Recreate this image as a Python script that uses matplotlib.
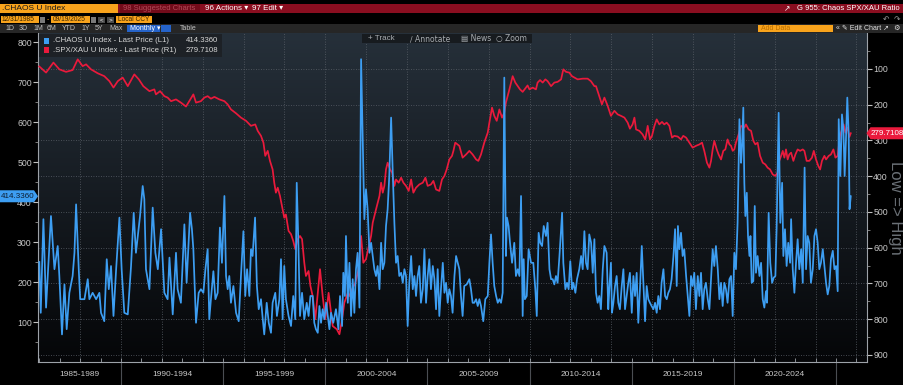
import numpy as np
import matplotlib
matplotlib.use('Agg')
import matplotlib.pyplot as plt
from matplotlib.patches import Rectangle, Polygon
from matplotlib.ticker import FixedLocator
import matplotlib.transforms as mtransforms

# ---------------- data ----------------
chaos_t = [
    1986.00, 1986.07, 1986.20, 1986.33, 1986.57, 1986.74, 1986.90, 1986.98, 1987.11, 1987.23, 1987.34, 1987.47,
    1987.63, 1987.72, 1987.80, 1987.93, 1988.00, 1988.21, 1988.37, 1988.45, 1988.61, 1988.78, 1988.94, 1989.02,
    1989.18, 1989.30, 1989.40, 1989.51, 1989.63, 1989.76, 1989.92, 1990.03, 1990.16, 1990.33, 1990.49, 1990.62,
    1990.73, 1990.82, 1990.93, 1991.06, 1991.14, 1991.22, 1991.39, 1991.55, 1991.68, 1991.80, 1991.96, 1992.12,
    1992.28, 1992.37, 1992.53, 1992.69,
    1992.77, 1992.93, 1993.10, 1993.21, 1993.38, 1993.47, 1993.54, 1993.67, 1993.80, 1993.91, 1994.03, 1994.13,
    1994.24, 1994.32, 1994.40, 1994.52, 1994.62, 1994.73, 1994.84, 1994.94, 1995.06, 1995.14, 1995.22, 1995.30,
    1995.38, 1995.50, 1995.63, 1995.76, 1995.87, 1995.99, 1996.08, 1996.17, 1996.28, 1996.36, 1996.44, 1996.56,
    1996.65, 1996.74, 1996.85, 1996.93, 1997.01, 1997.13, 1997.23, 1997.34, 1997.42, 1997.55, 1997.63, 1997.75,
    1997.83, 1997.91, 1997.99, 1998.07, 1998.20, 1998.32, 1998.43, 1998.53, 1998.60, 1998.68, 1998.76, 1998.86,
    1998.97, 1999.09, 1999.18, 1999.27, 1999.38, 1999.46, 1999.54,
    1999.63, 1999.71, 1999.79, 1999.87, 1999.95, 2000.04, 2000.12, 2000.20, 2000.28, 2000.39, 2000.52, 2000.64,
    2000.72, 2000.82, 2000.88, 2000.96, 2001.01, 2001.10, 2001.18, 2001.26, 2001.34, 2001.42, 2001.50, 2001.58,
    2001.67, 2001.75, 2001.91, 2001.99, 2002.07, 2002.16, 2002.24, 2002.32, 2002.40, 2002.48, 2002.56, 2002.65,
    2002.73, 2002.81, 2002.89, 2002.97, 2003.05, 2003.13, 2003.22, 2003.30, 2003.38, 2003.46, 2003.54, 2003.62,
    2003.71, 2003.79, 2003.87, 2003.95, 2004.03, 2004.11, 2004.20, 2004.28, 2004.36, 2004.44, 2004.52, 2004.60,
    2004.68, 2004.77, 2004.85, 2004.93, 2005.01, 2005.09, 2005.17, 2005.26, 2005.34, 2005.42, 2005.50, 2005.58,
    2005.66, 2005.75, 2005.83, 2005.91, 2005.99, 2006.07, 2006.15, 2006.23, 2006.32, 2006.40,
    2006.56, 2006.64, 2006.72, 2006.80, 2006.92, 2007.05, 2007.13, 2007.21, 2007.29, 2007.38, 2007.46, 2007.54,
    2007.62, 2007.73, 2007.83, 2007.95, 2008.03, 2008.11, 2008.19, 2008.27, 2008.36, 2008.44, 2008.52, 2008.60,
    2008.68, 2008.76, 2008.84, 2008.89, 2008.97, 2009.04, 2009.14, 2009.25, 2009.33, 2009.42, 2009.50, 2009.58,
    2009.66, 2009.71, 2009.77, 2009.86, 2009.95, 2010.07, 2010.18, 2010.28, 2010.35, 2010.44, 2010.52, 2010.61,
    2010.69, 2010.80, 2010.88, 2010.97, 2011.05, 2011.13, 2011.21, 2011.29, 2011.37, 2011.46, 2011.59, 2011.65,
    2011.75, 2011.83, 2011.91, 2011.99, 2012.08, 2012.14, 2012.24, 2012.32, 2012.43, 2012.52, 2012.60, 2012.68,
    2012.76, 2012.84, 2012.92, 2013.01, 2013.09, 2013.17,
    2013.25, 2013.33, 2013.41, 2013.49, 2013.58, 2013.66, 2013.77, 2013.85, 2013.90, 2013.98, 2014.03, 2014.10,
    2014.18, 2014.26, 2014.34, 2014.42, 2014.51, 2014.59, 2014.67, 2014.75, 2014.83, 2014.91, 2015.00, 2015.08,
    2015.16, 2015.24, 2015.32, 2015.40, 2015.49, 2015.57, 2015.65, 2015.73, 2015.81, 2015.89, 2015.97, 2016.06,
    2016.14, 2016.22, 2016.30, 2016.38, 2016.46, 2016.55, 2016.63, 2016.71, 2016.79, 2016.87, 2016.95, 2017.04,
    2017.12, 2017.20, 2017.26, 2017.33, 2017.41, 2017.49, 2017.57, 2017.66, 2017.74, 2017.82, 2017.90, 2017.98,
    2018.06, 2018.14, 2018.23, 2018.31, 2018.39, 2018.47, 2018.55, 2018.63, 2018.72, 2018.80, 2018.88, 2018.96,
    2019.04, 2019.12, 2019.21, 2019.29, 2019.37, 2019.45, 2019.53, 2019.61, 2019.69, 2019.78, 2019.86, 2019.94,
    2020.02, 2020.10,
    2020.18, 2020.27, 2020.35, 2020.40, 2020.46, 2020.51, 2020.56, 2020.63, 2020.69, 2020.76, 2020.81, 2020.87,
    2020.95, 2021.02, 2021.08, 2021.16, 2021.25, 2021.33, 2021.41, 2021.49, 2021.57, 2021.62, 2021.70, 2021.78,
    2021.87, 2021.95, 2022.03, 2022.09, 2022.19, 2022.27, 2022.36, 2022.42, 2022.50, 2022.58, 2022.66, 2022.75,
    2022.80, 2022.88, 2022.96, 2023.04, 2023.12, 2023.20, 2023.29, 2023.37, 2023.46, 2023.53, 2023.61, 2023.69,
    2023.77, 2023.86, 2023.94, 2024.02, 2024.10, 2024.18, 2024.26, 2024.35, 2024.43, 2024.51, 2024.59, 2024.67,
    2024.75, 2024.84, 2024.92, 2025.00, 2025.08, 2025.13, 2025.21, 2025.29, 2025.36, 2025.42, 2025.49, 2025.55,
    2025.62, 2025.66, 2025.72,
]
chaos_v = [
    250, 123, 357, 136, 365, 232, 290, 215, 69, 194, 82, 173,
    215, 273, 394, 232, 157, 157, 207, 157, 173, 157, 173, 123,
    102, 257, 182, 240, 115, 232, 361, 232, 123, 119, 240, 373,
    273, 315, 365, 440, 407, 232, 182, 386, 273, 232, 332, 173,
    157, 261, 119, 273,
    182, 148, 344, 198, 373, 332, 282, 98, 173, 182, 173, 232,
    282, 107, 157, 227, 157, 173, 336, 248, 415, 215, 182, 215,
    148, 190, 123, 102, 215, 327, 165, 232, 165, 282, 265, 361,
    190, 132, 157, 111, 69, 148, 98, 73, 148, 173, 115, 157,
    257, 107, 240, 157, 115, 90, 165, 107, 448, 298, 115, 173,
    107, 148, 115, 165, 165, 98, 82,
    73, 140, 98, 132, 107, 148, 115, 82, 123, 98, 132, 82,
    165, 90, 223, 165, 315, 148, 248, 115, 207, 123, 232, 273,
    136, 757, 357, 432, 382, 273, 298, 265, 232, 215, 240, 182,
    298, 232, 248, 340, 382, 465, 611, 473, 348, 248, 265, 215,
    223, 198, 232, 215, 90, 198, 265, 182, 215, 165, 215, 240,
    148, 182, 282, 148, 215, 257, 182, 240, 207, 132, 232, 115,
    182, 248, 173, 198, 148, 182, 165, 123, 215, 265,
    232, 165, 115, 190, 194, 207, 182, 148, 148, 157, 140, 157,
    140, 102, 157, 165, 248, 319, 248, 190, 165, 148, 157, 148,
    173, 711, 265, 361, 340, 298, 248, 298, 215, 232, 215, 415,
    115, 257, 157, 165, 282, 248, 248, 182, 115, 323, 298, 290,
    340, 315, 348, 232, 207, 207, 194, 215, 198, 265, 373, 248,
    182, 198, 182, 252, 182, 198, 173, 207, 232, 265, 232, 327,
    248, 232, 319, 298, 223, 307,
    173, 148, 165, 132, 232, 290, 273, 132, 182, 248, 123, 148,
    190, 215, 148, 132, 190, 232, 132, 165, 198, 223, 123, 215,
    165, 223, 98, 182, 290, 194, 102, 190, 157, 148, 140, 132,
    148, 123, 165, 132, 198, 232, 165, 157, 173, 182, 207, 265,
    332, 190, 340, 282, 323, 265, 282, 215, 165, 115, 215, 190,
    223, 132, 215, 165, 223, 132, 182, 198, 157, 132, 207, 282,
    240, 290, 232, 157, 198, 140, 198, 182, 148, 207, 215, 115,
    273, 232,
    348, 607, 498, 540, 636, 448, 365, 423, 315, 265, 315, 198,
    202, 390, 223, 265, 215, 248, 157, 136, 177, 148, 373, 248,
    198, 211, 215, 332, 623, 348, 448, 265, 332, 240, 298, 248,
    357, 232, 173, 248, 307, 232, 282, 198, 486, 232, 315, 298,
    198, 232, 315, 332, 298, 232, 248, 282, 240, 198, 169, 190,
    257, 278, 232, 240, 177, 607, 465, 619, 582, 465, 565, 661,
    565, 382, 414.3360,
]

ratio_t = [
    1986.00, 1986.33, 1986.69, 1986.98, 1987.31, 1987.63, 1987.88, 1988.12, 1988.29, 1988.53, 1988.86, 1989.18,
    1989.43, 1989.63, 1989.84, 1990.08, 1990.33, 1990.65, 1990.87, 1991.09, 1991.39, 1991.63, 1991.71, 1991.91,
    1992.12, 1992.28, 1992.45, 1992.69,
    1992.93, 1993.18, 1993.34, 1993.54, 1993.67, 1993.91, 1994.08, 1994.24, 1994.40, 1994.57, 1994.81, 1995.06,
    1995.22, 1995.38, 1995.63, 1995.87, 1996.12, 1996.36, 1996.57, 1996.69, 1996.85, 1996.97, 1997.06, 1997.18,
    1997.29, 1997.42, 1997.50, 1997.58, 1997.67, 1997.78, 1997.91, 1997.99, 1998.07, 1998.20, 1998.32, 1998.43,
    1998.53, 1998.65, 1998.76, 1998.86, 1998.97, 1999.05, 1999.18, 1999.27, 1999.38, 1999.51,
    1999.74, 1999.87, 2000.00, 2000.16, 2000.36, 2000.56, 2000.69, 2000.82, 2000.93, 2001.10, 2001.18, 2001.31,
    2001.47, 2001.63, 2001.75, 2001.86, 2001.99, 2002.24, 2002.32, 2002.48, 2002.65, 2002.73, 2002.81, 2002.89,
    2002.97, 2003.05, 2003.17, 2003.27, 2003.38, 2003.46, 2003.59, 2003.71, 2003.82, 2003.95, 2004.08, 2004.20,
    2004.31, 2004.44, 2004.60, 2004.77, 2004.90, 2005.01, 2005.17, 2005.29, 2005.42, 2005.58, 2005.71, 2005.83,
    2005.94, 2006.07, 2006.20, 2006.27, 2006.36,
    2006.56, 2006.72, 2006.89, 2007.05, 2007.21, 2007.38, 2007.49, 2007.62, 2007.78, 2007.95, 2008.03, 2008.16,
    2008.27, 2008.39, 2008.52, 2008.65, 2008.76, 2008.84, 2009.01, 2009.17, 2009.30, 2009.42, 2009.53, 2009.66,
    2009.82, 2009.90, 2009.99, 2010.15, 2010.31, 2010.39, 2010.51, 2010.64, 2010.77, 2010.88, 2011.05, 2011.21,
    2011.37, 2011.54, 2011.65, 2011.78, 2011.94, 2012.07, 2012.19, 2012.35, 2012.60, 2012.84, 2013.00, 2013.17,
    2013.25, 2013.41, 2013.54, 2013.66, 2013.82, 2013.98, 2014.15, 2014.31, 2014.47, 2014.64, 2014.80, 2014.91,
    2015.04, 2015.13, 2015.21, 2015.37, 2015.53, 2015.66, 2015.78, 2015.89, 2015.99, 2016.11, 2016.22, 2016.35,
    2016.48, 2016.59, 2016.71, 2016.84, 2016.97, 2017.08, 2017.25, 2017.41, 2017.52, 2017.66, 2017.82, 2017.98,
    2018.14, 2018.31, 2018.44, 2018.55, 2018.68, 2018.80, 2018.88, 2018.96, 2019.04, 2019.16, 2019.25, 2019.37,
    2019.48, 2019.58, 2019.69, 2019.78, 2019.86, 2019.94, 2020.02, 2020.10,
    2020.23, 2020.35, 2020.51, 2020.59, 2020.72, 2020.84, 2020.95, 2021.05, 2021.16, 2021.28, 2021.41, 2021.54,
    2021.65, 2021.77, 2021.90, 2022.03, 2022.14, 2022.22, 2022.31, 2022.39, 2022.47, 2022.55, 2022.63, 2022.71,
    2022.80, 2022.91, 2023.01, 2023.12, 2023.24, 2023.37, 2023.45, 2023.56, 2023.69, 2023.82, 2023.91, 2024.02,
    2024.13, 2024.22, 2024.31, 2024.43, 2024.51, 2024.64, 2024.75, 2024.87, 2024.97, 2025.08, 2025.19, 2025.29,
    2025.37, 2025.46, 2025.57, 2025.65, 2025.72,
]
ratio_v = [
    93, 110, 82, 101, 108, 103, 73, 92, 87, 101, 112, 120,
    134, 152, 134, 124, 148, 115, 129, 148, 162, 157, 171, 162,
    176, 180, 190, 185,
    194, 205, 190, 171, 194, 190, 180, 176, 183, 178, 185, 190,
    199, 213, 224, 236, 245, 259, 255, 273, 287, 306, 343, 329,
    357, 381, 418, 446, 432, 455, 493, 516, 507, 553, 562, 581,
    604, 576, 567, 576, 642, 679, 665, 707, 735, 800,
    660, 735, 800, 726, 819, 828, 842, 800, 754, 726, 735, 716,
    698, 660, 567, 642, 632, 567, 530, 493, 455, 418, 446, 427,
    381, 362, 381, 390, 427, 409, 418, 404, 418, 427, 441, 409,
    446, 432, 423, 418, 404, 427, 423, 413, 437, 441, 409, 399,
    381, 353, 343, 329, 306,
    315, 348, 339, 329, 339, 353, 357, 339, 306, 278, 250, 208,
    231, 245, 213, 236, 222, 194, 157, 120, 138, 148, 157, 164,
    152, 146, 157, 152, 157, 138, 131, 138, 129, 134, 148, 138,
    136, 129, 101, 108, 110, 120, 124, 129, 127, 127, 134, 148,
    148, 176, 199, 180, 203, 231, 217, 227, 231, 236, 250, 267,
    255, 236, 269, 273, 283, 297, 259, 297, 287, 259, 241, 255,
    248, 255, 250, 259, 292, 287, 289, 297, 287, 292, 306, 320,
    315, 311, 306, 329, 362, 376, 357, 325, 301, 325, 339, 353,
    329, 325, 297, 311, 315, 329, 325, 306,
    283, 259, 264, 255, 269, 273, 301, 311, 306, 343, 362, 367,
    376, 381, 395, 399, 390, 357, 343, 329, 348, 325, 353, 339,
    334, 357, 339, 325, 329, 325, 329, 357, 357, 348, 329, 353,
    371, 381, 357, 343, 353, 343, 339, 325, 348, 343, 287, 269,
    255, 278, 264, 290, 279.7108,
]

left_ticks = [100, 200, 300, 400, 500, 600, 700, 800]
right_ticks = [100, 200, 300, 400, 500, 600, 700, 800, 900]
period_starts = [1985, 1990, 1995, 2000, 2005, 2010, 2015, 2020]
period_labels = ["1985-1989", "1990-1994", "1995-1999", "2000-2004",
                 "2005-2009", "2010-2014", "2015-2019", "2020-2024"]
legend_names = [".CHAOS U Index - Last Price (L1)", ".SPX/XAU U Index - Last Price (R1)"]
legend_values = ["414.3360", "279.7108"]

BLUE = '#3d9ef2'
RED = '#ea1a3c'
ORANGE = '#f8a31c'
GRID = '#5a6068'
TXT = '#c8c8c8'
FONT = ['Liberation Sans', 'DejaVu Sans']

W, H = 904, 385
fig = plt.figure(figsize=(W / 100, H / 100), dpi=100, facecolor='black')


def fx(x):
    return x / W


def fy(y):
    return 1 - y / H


def rect(x, y, w, h, color, z=5):
    fig.patches.append(Rectangle((fx(x), fy(y + h)), w / W, h / H, transform=fig.transFigure,
                                 facecolor=color, edgecolor='none', zorder=z))


def txt(x, y, s, size=5.5, color=TXT, ha='left', z=6, family=None, **kw):
    fig.text(fx(x), fy(y), s, fontsize=size, color=color, ha=ha, va='center', zorder=z,
             family=family or FONT, **kw)


L, R, T, B = 38.3, 866.7, 33.0, 362.0
pos = [fx(L), fy(B), (R - L) / W, (B - T) / H]

# gradient background
bg = fig.add_axes(pos, zorder=-1)
g = np.linspace(0, 1, 256)[:, None, None]
top = np.array([38, 48, 58]) / 255.0
bot = np.array([5, 6, 8]) / 255.0
img = top * (1 - g) + bot * g
img = np.repeat(img, 2, axis=1)
bg.imshow(img, aspect='auto', extent=[0, 1, 0, 1], origin='upper', interpolation='bilinear')
bg.set_axis_off()

axr = fig.add_axes(pos, zorder=0)
axr.set_facecolor('none')
axb = axr.twinx()
axb.set_zorder(0.5)

XMIN, XMAX = 1985.95, 2026.5
axr.set_xlim(XMIN, XMAX)
axr.set_ylim(919.6, -0.7)
axb.set_ylim(0, 822.5)

# grid
for r in right_ticks:
    axr.axhline(r, color=GRID, lw=0.6, ls=(0, (1, 2)), zorder=1)
for yr in range(1988, 2027, 2):
    axr.axvline(yr, color=GRID, lw=0.6, ls=(0, (1, 2)), zorder=1)

axr.plot(ratio_t, ratio_v, color=RED, lw=1.25, zorder=3, solid_joinstyle='round')
axb.plot(chaos_t, chaos_v, color=BLUE, lw=1.25, zorder=3, solid_joinstyle='round')

# axes styling
axr.spines['top'].set_visible(False)
for sp in ['left', 'right', 'bottom']:
    axr.spines[sp].set_color('#9da2a8')
    axr.spines[sp].set_linewidth(0.8)
for sp in axb.spines.values():
    sp.set_visible(False)

axr.yaxis.tick_right()
axr.yaxis.set_major_locator(FixedLocator(right_ticks))
axr.yaxis.set_minor_locator(FixedLocator([v + 50 for v in [0] + right_ticks[:-1]]))
axr.tick_params(axis='y', which='major', direction='out', length=3.5, width=0.8, color='#c0c0c0',
                labelsize=6.3, labelcolor=TXT, pad=1.2)
axr.tick_params(axis='y', which='minor', direction='out', length=2, width=0.6, color='#909090')

axb.yaxis.tick_left()
axb.yaxis.set_major_locator(FixedLocator(left_ticks))
axb.yaxis.set_minor_locator(FixedLocator([v + 50 for v in [0] + left_ticks]))
axb.tick_params(axis='y', which='major', direction='out', length=3.5, width=0.8, color='#c0c0c0',
                labelsize=6.3, labelcolor=TXT, pad=1.2)
axb.tick_params(axis='y', which='minor', direction='out', length=2, width=0.6, color='#909090')
for lab in axr.get_yticklabels() + axb.get_yticklabels():
    lab.set_family(FONT)

axr.set_xticks(list(range(1986, 2027)))
axr.tick_params(axis='x', which='major', direction='in', length=3, width=0.6, color='#9da2a8',
                labelbottom=False)

# bottom period separators + labels
trans = mtransforms.blended_transform_factory(axr.transData, fig.transFigure)
for s in period_starts[1:] + [2025]:
    axr.plot([s, s], [0, fy(B)], transform=trans, color='#4a4d52', lw=0.8, clip_on=False, zorder=2)
for s, lab in zip(period_starts, period_labels):
    c = (max(s, XMIN) + s + 5) / 2
    axr.text(c, fy(375), lab, transform=trans, ha='center', va='center', fontsize=6,
             color=TXT, family=FONT)

# right axis title
txt(896, 208, "Low => High", size=12, color='#6a7076', ha='center', rotation=270)

# last price tags
fig.canvas.draw()
yb = axb.transData.transform((2025.72, chaos_v[-1]))[1]
yr_ = axr.transData.transform((2025.72, ratio_v[-1]))[1]
ybp = H - yb
yrp = H - yr_
fig.patches.append(Polygon([(fx(0), fy(ybp - 6)), (fx(34), fy(ybp - 6)), (fx(38), fy(ybp)),
                            (fx(34), fy(ybp + 6)), (fx(0), fy(ybp + 6))], closed=True,
                           transform=fig.transFigure, facecolor=BLUE, edgecolor='none', zorder=7))
txt(17.5, ybp, legend_values[0], size=5.8, color='#0d1f33', ha='center', z=8)
fig.patches.append(Polygon([(fx(866.5), fy(yrp)), (fx(870.5), fy(yrp - 6)), (fx(904), fy(yrp - 6)),
                            (fx(904), fy(yrp + 6)), (fx(870.5), fy(yrp + 6))], closed=True,
                           transform=fig.transFigure, facecolor=RED, edgecolor='none', zorder=7))
txt(887.5, yrp, legend_values[1], size=5.8, color='white', ha='center', z=8)

# legend box
rect(39, 33.5, 183, 23.5, '#1d2126', z=5)
rect(44, 38, 5.5, 5.5, BLUE, z=6)
rect(44, 47, 5.5, 5.5, RED, z=6)
txt(53, 41, legend_names[0], size=5.6, color='#d6d6d6')
txt(53, 50, legend_names[1], size=5.6, color='#d6d6d6')
txt(218, 41, legend_values[0], size=5.6, color='#d6d6d6', ha='right')
txt(218, 50, legend_values[1], size=5.6, color='#d6d6d6', ha='right')

# chart toolbar
rect(362, 33.5, 170, 9.5, '#171b1f', z=5)
txt(368, 38.3, "+ Track", size=5.8, color='#a8acb0')
txt(410, 38.3, "\u2215 Annotate", size=5.5, color='#a8acb0', family=['DejaVu Sans'])
txt(461, 38.3, "\u25a4 News", size=5.5, color='#a8acb0', family=['DejaVu Sans'])
txt(496, 38.3, "\u25cb Zoom", size=5.5, color='#a8acb0', family=['DejaVu Sans'])

# ---------------- header ----------------
rect(0, 4, 118, 9, ORANGE)
txt(2, 8.5, ".CHAOS U Index", size=6, color='#1a1a1a')
rect(118, 4, 786, 9, '#8a0e20')
rect(120, 4.5, 80, 8, '#720b1a', z=5.5)
txt(123, 8.5, "98 Suggested Charts", size=5.5, color='#b04a58')
txt(205, 8.5, "96 Actions \u25be", size=5.8, color='white', family=['Liberation Sans', 'DejaVu Sans'])
txt(252, 8.5, "97 Edit \u25be", size=5.8, color='white', family=['Liberation Sans', 'DejaVu Sans'])
txt(784, 8.5, "\u2197", size=5.5, color='white', family=['DejaVu Sans'])
txt(900, 8.5, "G 955: Chaos SPX/XAU Ratio", size=5.5, color='white', ha='right')

# date row
rect(1, 16, 38, 7, ORANGE)
txt(2, 19.5, "12/31/1985", size=4.8, color='#3a2400')
rect(40, 16.5, 5, 6, '#7a7a7a')
txt(46.5, 19.5, "-", size=5, color=ORANGE)
rect(51, 16, 39, 7, ORANGE)
txt(52.5, 19.5, "09/19/2025", size=4.8, color='#3a2400')
rect(91, 16.5, 5, 6, '#7a7a7a')
rect(98, 16.5, 7, 6, '#4a4a4a')
rect(107, 16.5, 7, 6, '#4a4a4a')
txt(99.8, 19.5, "<", size=4.5, color='white')
txt(108.8, 19.5, ">", size=4.5, color='white')
rect(116, 16, 36, 7, ORANGE)
txt(118, 19.5, "Local CCY", size=4.8, color='#3a2400')
txt(892, 19.5, "\u21b6  \u21b7", size=5.5, color='#9a9a9a', ha='center', family=['DejaVu Sans'])

# range row
rect(0, 24, 904, 8.5, '#262626', z=4.5)
for lab, xx in zip(["1D", "3D", "1M", "6M", "YTD", "1Y", "5Y", "Max"],
                   [5, 19, 33, 47, 62, 81, 95, 109]):
    txt(xx, 28.2, lab, size=5, color='#c0c0c0')
rect(127, 24.5, 33, 7.5, '#2563c9')
txt(130, 28.2, "Monthly \u25be", size=5, color='white', family=['Liberation Sans', 'DejaVu Sans'])
rect(161, 24.5, 10, 7.5, '#2563c9')
txt(180, 28.2, "Table", size=5, color='#c0c0c0')
rect(758, 24.5, 75, 7.5, ORANGE)
txt(761, 28.2, "Add Data", size=5, color='#b86e00')
txt(836, 28.2, "\u00ab \u270e Edit Chart", size=5, color='#e0e0e0', family=['Liberation Sans', 'DejaVu Sans'])
txt(883, 28.2, "\u2197", size=5, color='#e0e0e0', family=['DejaVu Sans'])
txt(893, 28.2, "\u2699", size=5.3, color='#e0e0e0', family=['DejaVu Sans'])

fig.savefig('out.png', dpi=100, facecolor='black')
